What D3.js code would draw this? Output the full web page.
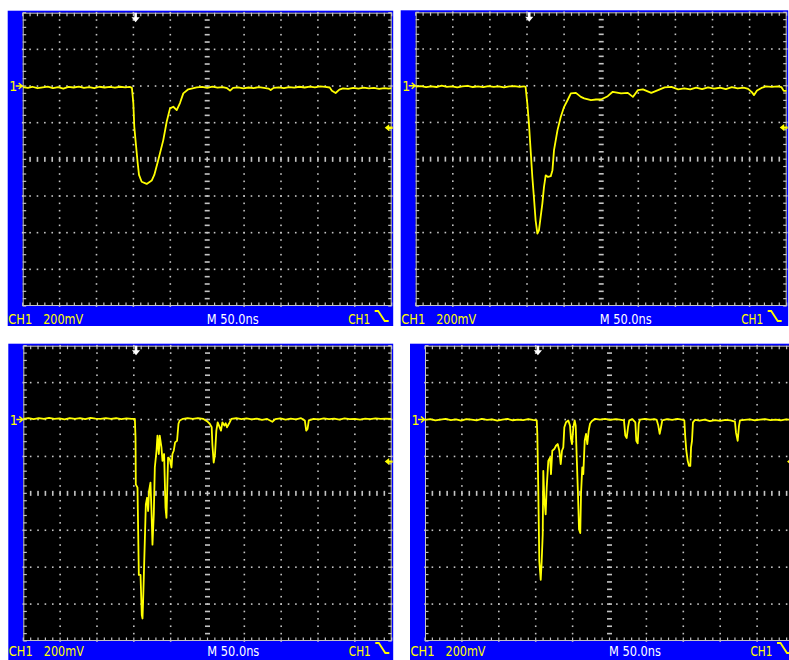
<!DOCTYPE html>
<html>
<head>
<meta charset="utf-8">
<script src="https://cdn.jsdelivr.net/npm/d3@7"></script>
<style>
  body { margin: 0; background: #fff; }
</style>
</head>
<body>
<div id="scope"></div>
<script>
// four captures of the same channel, each point is [time ns, level mV]
// time 0 = trigger, level 0 = channel 1 ground marker
var trace1 = [
  [-150,-6],[-143,-10],[-137,-4],[-130,-12],[-123,-7],[-116,-3],[-109,-11],[-102,-6],[-95,-14],[-88,-5],
  [-81,-8],[-74,-3],[-67,-10],[-60,-6],[-53,-12],[-46,-4],[-39,-8],[-32,-5],[-25,-9],[-18,-4],[-11,-7],
  [-5,-5],[-2,-10],
  [-0.1,-93],[1.2,-222],[3.5,-322],[5.8,-420],[7.6,-485],[11.2,-522],[18,-534],[24.8,-516],[28.3,-485],
  [33.7,-404],[40.5,-295],[45.1,-195],[49.6,-122],[54.1,-113],[58.7,-131],[63.1,-93],[67.6,-40],[74.4,-18],
  [85.8,-7],
  [93,-5],[100,-10],[107,-3],[114,-9],[121,-6],[127,-12],[131,-25],[135,-10],[142,-7],[149,-13],[156,-8],
  [163,-11],[170,-6],[177,-10],[183,-14],[186,-22],[190,-10],[197,-7],[204,-12],[211,-6],[218,-9],[225,-4],
  [232,-8],[239,-3],[246,-7],[253,-2],[260,-5],[266,-8],[269,-26],[274,-38],[279,-20],[284,-13],[291,-16],
  [298,-10],[305,-14],[312,-9],[319,-13],[326,-10],[333,-15],[340,-11],[346,-14],[350,-12]
];

var trace2 = [
  [-150,-5],[-143,-2],[-136,-8],[-129,-3],[-122,-7],[-115,0],[-108,-6],[-101,-3],[-94,-9],[-87,-4],
  [-80,-1],[-73,-7],[-66,-3],[-59,-8],[-52,-2],[-45,-6],[-38,-3],[-31,-9],[-24,-4],[-17,-2],[-10,-6],
  [-4,-3],[-1.9,-6],
  [0.4,-97],[2.6,-206],[4.9,-351],[7.2,-497],[9.3,-606],[11.6,-733],[14,-806],[16.1,-788],[18.4,-715],
  [20.7,-642],[22.9,-551],[25.2,-488],[28.3,-497],[32,-493],[34.3,-460],[36.4,-351],[41.1,-242],[45.5,-170],
  [50,-115],[54.6,-79],[59.1,-42],[65.9,-39],[72.6,-61],[77.1,-69],[86.2,-79],[93,-75],[99.7,-75],
  [108.8,-57],[115.6,-33],[126.8,-42],[135.9,-39],[142.7,-61],[149.5,-24],[156.2,-20],[167.5,-39],
  [176.6,-24],[185.5,-9],[194.6,-6],[203.7,-20],
  [212,-14],[220,-20],[228,-10],[236,-18],[244,-9],[252,-16],[260,-11],[268,-19],[276,-8],[284,-15],
  [292,-10],[298,-17],[303,-35],[306,-51],[310,-26],[316,-12],[322,-4],[330,-6],[338,-3],[343,-8],
  [346,-28],[350,-28]
];

var trace3 = [
  [-150,4],[-143,8],[-136,2],[-129,7],[-122,3],[-115,9],[-108,4],[-101,6],[-94,1],[-87,8],[-80,3],
  [-73,7],[-66,2],[-59,9],[-52,5],[-45,3],[-38,8],[-31,4],[-24,7],[-17,2],[-10,6],[-3,3],[1.4,4],
  [2.3,-97],[2.7,-351],[5,-369],[6.8,-842],[9.1,-842],[10.8,-1060],[11.8,-1078],[12.6,-987],[13.5,-860],
  [16.3,-460],[18,-424],[19.4,-496],[20.7,-387],[22.6,-342],[24,-496],[25.3,-678],[27.1,-514],[28.5,-260],
  [30.8,-169],[32.1,-87],[33.9,-187],[35.2,-87],[37.5,-151],[38.9,-224],[41.1,-187],[43,-478],[44.3,-533],
  [46.5,-206],[48.8,-214],[51.1,-260],[52.4,-187],[54.2,-169],[56,-124],[58.7,-115],[60.6,-23],[62.3,-5],
  [66.8,4],
  [73,7],[80,3],[87,8],[94,4],[99.3,-9],[103,-23],[105.7,-42],[106.6,-133],[108.4,-233],[110.2,-187],
  [112,-60],[113.8,-15],[115.6,-33],[118.3,-60],[120.2,-15],[122.9,-33],[124.7,-20],[126.4,-42],[129.1,-23],
  [132.4,4],[139,7],[146,2],[153,6],[160,1],[167,5],[174,-2],[181,3],[188,-12],[192,2],[199,6],[206,0],
  [213,5],[220,1],[227,7],[232.1,-5],[234,-60],[235.8,-51],[237.5,-5],[244,4],[251,1],[258,6],[265,2],
  [272,5],[279,0],[286,6],[293,2],[300,4],[307,0],[314,5],[321,2],[328,6],[335,3],[342,5],[350,4]
];

var trace4 = [
  [-150,-2],[-143,2],[-136,-5],[-129,0],[-122,4],[-115,-3],[-108,1],[-101,-6],[-94,2],[-87,-1],[-80,-5],
  [-73,3],[-66,-2],[-59,1],[-52,-6],[-45,0],[-38,3],[-31,-4],[-24,0],[-17,-3],[-10,2],[-4,-2],[1.4,-5],
  [2.2,-78],[3.5,-378],[4.9,-769],[6.8,-869],[8.1,-769],[9.5,-623],[10.3,-278],[11.6,-424],[13.5,-514],
  [14.9,-369],[17.1,-224],[19.4,-206],[20.7,-296],[22.5,-169],[25.2,-160],[27.5,-142],[29.8,-133],[32,-169],
  [33.9,-242],[35.6,-169],[37.4,-151],[38.8,-42],[41.1,-15],[44.2,-5],[46.5,-33],[47.8,-105],[49.2,-133],
  [51,-42],[52.8,-5],[54.2,-33],[55.6,-206],[57.3,-405],[58.7,-596],[60.4,-615],[61.4,-405],[63.1,-260],
  [64.5,-296],[66.4,-115],[68.2,-78],[69.9,-133],[71.8,-60],[73.6,-23],[75.9,-9],[80.4,4],
  [87,0],[94,3],[101,-2],[108,2],[114,-1],[119.6,-5],[121.4,-87],[123.3,-100],[125.1,-42],[126.8,-5],
  [131,2],[135,-15],[136.3,-115],[138.2,-129],[139.6,-23],[141.3,0],[148,3],[155,-1],[161,2],[164,-2],
  [166.1,-33],[168,-78],[169.8,-42],[171.5,-5],[178,2],[185,-2],[192,3],[198,0],[201.4,-5],[202.7,-97],
  [204.1,-169],[206,-224],[207.7,-251],[209.5,-251],[210.5,-151],[211.8,-115],[213.1,-15],[215.9,-2],
  [222,-6],[229,-1],[236,-9],[243,-3],[250,-7],[257,-2],[264,-5],[270,-11],[271.4,-71],[273.7,-115],
  [275.5,-33],[276.8,-5],[283,-2],[290,1],[297,-4],[304,0],[311,2],[318,-3],[325,0],[332,-4],[339,1],
  [346,-2],[350,0]
];

var traces = [trace1, trace2, trace3, trace4];

// screen: 10 div x 50 ns, 8 div x 200 mV
var timeDomain = [-150, 350];
var voltDomain = [-1200, 400];
var timeTicks = d3.range(-150, 351, 50);
var voltTicks = d3.range(-1200, 401, 200);
var triggerTime = 3;
var triggerLevel = -228;

var chLabel = "CH1";
var voltLabel = "200mV";
var timeLabel = "M 50.0ns";

// where each screen sits on the page
var panels = [
  {x: 22.7, y: 12.7, w: 369, h: 293.3},
  {x: 415.7, y: 12.3, w: 371, h: 293.7},
  {x: 23.3, y: 345.7, w: 368.4, h: 295.3},
  {x: 425, y: 345.7, w: 369, h: 295.3}
];

var yellow = "#ffff00", grid = "#c4c4c4", blue = "#0000ff";
var font = "'Liberation Sans Narrow','DejaVu Sans Condensed','Liberation Sans',sans-serif";

var svg = d3.select("#scope")
  .append("svg")
    .attr("width", 789)
    .attr("height", 660)
    .style("background", "#fff")
    .style("display", "block");

panels.forEach(function(p, i) {
  var g = svg.append("g")
      .attr("transform", "translate(" + p.x + "," + p.y + ")");

  var x = d3.scaleLinear().domain(timeDomain).range([0, p.w]);
  var y = d3.scaleLinear().domain(voltDomain).range([p.h, 0]);

  var minorT = d3.range(timeDomain[0], timeDomain[1] + 1, 10);
  var minorV = d3.range(voltDomain[0], voltDomain[1] + 1, 40);
  var midT = timeTicks[5], midV = voltTicks[4];

  // blue bezel + black screen
  g.append("rect")
      .attr("x", -15).attr("y", -2)
      .attr("width", p.w + 16.5).attr("height", p.h + 22)
      .attr("fill", blue);
  g.append("rect")
      .attr("width", p.w).attr("height", p.h)
      .attr("fill", "#000");

  // dotted graticule
  var dots = [];
  timeTicks.slice(1, -1).forEach(function(t) {
    if (t === midT) return;
    minorV.forEach(function(v) { dots.push([x(t), y(v)]); });
  });
  voltTicks.slice(1, -1).forEach(function(v) {
    if (v === midV) return;
    minorT.forEach(function(t) { dots.push([x(t), y(v)]); });
  });
  g.selectAll(".dot")
    .data(dots)
    .enter()
    .append("rect")
      .attr("x", function(d) { return d[0] - 0.8; })
      .attr("y", function(d) { return d[1] - 0.8; })
      .attr("width", 1.6).attr("height", 1.6)
      .attr("fill", grid);

  // centre cross with dashes
  g.selectAll(".vdash")
    .data(minorV.slice(1, -1))
    .enter()
    .append("rect")
      .attr("x", x(midT) - 2.5)
      .attr("y", function(v) { return y(v) - 0.8; })
      .attr("width", 5).attr("height", 1.6)
      .attr("fill", grid);
  g.selectAll(".hdash")
    .data(minorT.slice(1, -1))
    .enter()
    .append("rect")
      .attr("x", function(t) { return x(t) - 0.8; })
      .attr("y", y(midV) - 2.5)
      .attr("width", 1.6).attr("height", 5)
      .attr("fill", grid);

  // border with minor ticks
  g.append("rect")
      .attr("x", 0.5).attr("y", 0.5)
      .attr("width", p.w - 1).attr("height", p.h - 1)
      .attr("fill", "none")
      .attr("stroke", grid);
  minorT.forEach(function(t) {
    g.append("line").attr("x1", x(t)).attr("x2", x(t)).attr("y1", 0).attr("y2", 3.5)
      .attr("stroke", grid).attr("stroke-width", 1.2);
    g.append("line").attr("x1", x(t)).attr("x2", x(t)).attr("y1", p.h - 3.5).attr("y2", p.h)
      .attr("stroke", grid).attr("stroke-width", 1.2);
  });
  minorV.forEach(function(v) {
    g.append("line").attr("x1", 0).attr("x2", 3.5).attr("y1", y(v)).attr("y2", y(v))
      .attr("stroke", grid).attr("stroke-width", 1.2);
    g.append("line").attr("x1", p.w - 3.5).attr("x2", p.w).attr("y1", y(v)).attr("y2", y(v))
      .attr("stroke", grid).attr("stroke-width", 1.2);
  });

  // waveform
  g.append("clipPath").attr("id", "clip" + i)
    .append("rect").attr("width", p.w).attr("height", p.h);

  var line = d3.line()
    .x(function(d) { return x(d[0]); })
    .y(function(d) { return y(d[1]); });

  g.append("path")
      .datum(traces[i])
      .attr("clip-path", "url(#clip" + i + ")")
      .attr("d", line)
      .attr("fill", "none")
      .attr("stroke", yellow)
      .attr("stroke-width", 1.8)
      .attr("stroke-linejoin", "round");

  // trigger position arrow (top)
  var tx = x(triggerTime);
  g.append("path")
      .attr("d", "M" + (tx - 1.3) + ",0 h2.6 v4.5 h2.8 l-4.1,5 l-4.1,-5 h2.8 z")
      .attr("fill", "#fff");

  // ground marker "1 ->"
  var gy = y(0);
  g.append("text")
      .attr("x", -13.5).attr("y", gy + 5)
      .attr("fill", yellow)
      .style("font-family", font)
      .style("font-size", "14px")
      .text("1");
  g.append("path")
      .attr("d", "M-7," + gy + " H-0.5 M-4," + (gy - 3) + " L-0.5," + gy + " L-4," + (gy + 3))
      .attr("fill", "none")
      .attr("stroke", yellow)
      .attr("stroke-width", 1.4);

  // trigger level arrow (right)
  var ly = y(triggerLevel);
  g.append("path")
      .attr("d", "M" + (p.w - 7) + "," + ly + " l4.5,-3.5 v2.3 h3.5 v2.4 h-3.5 v2.3 z")
      .attr("fill", yellow);

  // status bar (kept inside the page at the bottom edge)
  var by = Math.min(p.h + 18, 656 - p.y);
  var fs = "14px";
  g.append("text")
      .attr("x", -14.5).attr("y", by)
      .attr("textLength", 24).attr("lengthAdjust", "spacingAndGlyphs")
      .attr("fill", yellow)
      .style("font-family", font).style("font-size", fs)
      .text(chLabel);
  g.append("text")
      .attr("x", 20.5).attr("y", by)
      .attr("textLength", 40).attr("lengthAdjust", "spacingAndGlyphs")
      .attr("fill", yellow)
      .style("font-family", font).style("font-size", fs)
      .text(voltLabel);
  g.append("text")
      .attr("x", 184).attr("y", by)
      .attr("textLength", 52).attr("lengthAdjust", "spacingAndGlyphs")
      .attr("fill", "#fff")
      .style("font-family", font).style("font-size", fs)
      .text(timeLabel);
  g.append("text")
      .attr("x", 325.5).attr("y", by)
      .attr("textLength", 22).attr("lengthAdjust", "spacingAndGlyphs")
      .attr("fill", yellow)
      .style("font-family", font).style("font-size", fs)
      .text(chLabel);
  // falling-edge slope symbol
  g.append("path")
      .attr("d", "M352," + (by - 13) + " h3.5 l6.5,10 h4")
      .attr("fill", "none")
      .attr("stroke", yellow)
      .attr("stroke-width", 1.8);
});
</script>
</body>
</html>
